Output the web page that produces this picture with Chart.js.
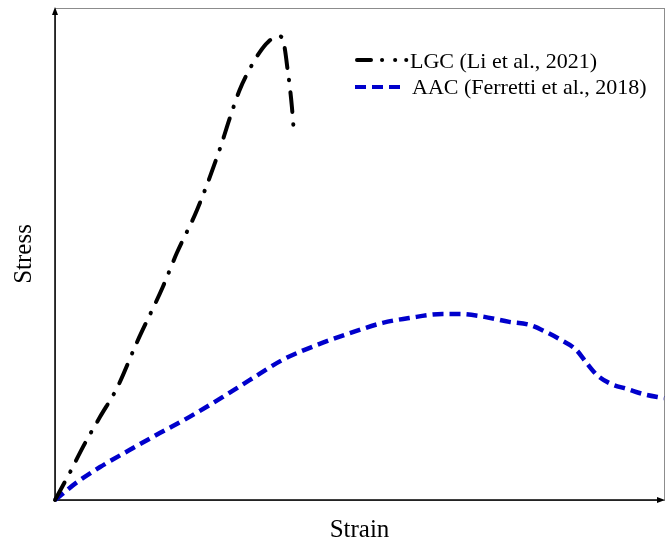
<!DOCTYPE html>
<html>
<head>
<meta charset="utf-8">
<script src="https://cdn.jsdelivr.net/npm/chart.js@4"></script>
<style>
  html, body { margin: 0; padding: 0; background: #fff; }
  #wrap { width: 670px; height: 542px; }
</style>
</head>
<body>
<div id="wrap"><canvas id="stressChart" width="670" height="542"></canvas></div>
<script>
/* =========================
   DATA (axes 0..1, no units)
========================= */
const seriesNames = ["LGC (Li et al., 2021)", "AAC (Ferretti et al., 2018)"];
const axisTitles = { x: "Strain", y: "Stress" };

const lgcStrain = [0, 0.025, 0.046, 0.074, 0.102, 0.134, 0.177, 0.200, 0.233, 0.270, 0.287, 0.303, 0.318, 0.336, 0.350, 0.366, 0.374, 0.378, 0.382, 0.385, 0.389, 0.392];
const lgcStress = [0, 0.057, 0.108, 0.169, 0.228, 0.319, 0.433, 0.502, 0.589, 0.711, 0.776, 0.833, 0.872, 0.910, 0.931, 0.943, 0.938, 0.912, 0.874, 0.846, 0.799, 0.752];

const aacStrain = [0, 0.036, 0.074, 0.123, 0.172, 0.221, 0.275, 0.320, 0.374, 0.430, 0.484, 0.538, 0.582, 0.636, 0.664, 0.697, 0.746, 0.779, 0.807, 0.831, 0.856, 0.872, 0.890, 0.913, 0.939, 0.967, 1.0];
const aacStress = [0, 0.036, 0.067, 0.102, 0.136, 0.169, 0.209, 0.244, 0.285, 0.315, 0.339, 0.360, 0.370, 0.378, 0.378, 0.374, 0.362, 0.356, 0.341, 0.325, 0.305, 0.280, 0.254, 0.236, 0.226, 0.215, 0.207];

const BLUE = "#0000cc";
const SERIF = "'Liberation Serif', 'Times New Roman', serif";

function toPoints(xs, ys) {
  return xs.map((x, i) => ({ x: x, y: ys[i] }));
}

/* =========================
   FRAME + ARROWS
========================= */
const framePlugin = {
  id: "frame",
  beforeDatasetsDraw(chart) {
    const { ctx, chartArea: a } = chart;
    ctx.save();
    // thin grey box
    ctx.strokeStyle = "#8c8c8c";
    ctx.lineWidth = 1;
    ctx.strokeRect(a.left + 0.5, a.top + 0.5, a.right - a.left, a.bottom - a.top);
    // black axes
    ctx.strokeStyle = "#000";
    ctx.fillStyle = "#000";
    ctx.lineWidth = 1.5;
    ctx.beginPath();
    ctx.moveTo(a.left, a.top + 4);
    ctx.lineTo(a.left, a.bottom);
    ctx.lineTo(a.right - 4, a.bottom);
    ctx.stroke();
    // arrow heads
    ctx.beginPath();
    ctx.moveTo(a.left, a.top - 1);
    ctx.lineTo(a.left - 3, a.top + 7);
    ctx.lineTo(a.left + 3, a.top + 7);
    ctx.closePath();
    ctx.fill();
    ctx.beginPath();
    ctx.moveTo(a.right + 1, a.bottom);
    ctx.lineTo(a.right - 7, a.bottom - 3);
    ctx.lineTo(a.right - 7, a.bottom + 3);
    ctx.closePath();
    ctx.fill();
    ctx.restore();
  }
};

/* =========================
   LEGEND (drawn inside the plot)
========================= */
const legendPlugin = {
  id: "innerLegend",
  afterDatasetsDraw(chart) {
    const ctx = chart.ctx;
    ctx.save();
    ctx.lineWidth = 4;

    // dash-dot-dot sample
    ctx.strokeStyle = "#000";
    ctx.lineCap = "round";
    ctx.setLineDash([14, 11, 0.1, 13, 0.1, 11, 0.1, 100]);
    ctx.beginPath();
    ctx.moveTo(357, 60);
    ctx.lineTo(408, 60);
    ctx.stroke();

    // dashed sample
    ctx.strokeStyle = BLUE;
    ctx.lineCap = "butt";
    ctx.setLineDash([11, 6]);
    ctx.beginPath();
    ctx.moveTo(355, 87);
    ctx.lineTo(400, 87);
    ctx.stroke();

    ctx.setLineDash([]);
    ctx.fillStyle = "#000";
    ctx.font = "22px " + SERIF;
    ctx.textBaseline = "alphabetic";
    ctx.fillText(seriesNames[0], 410, 68);
    ctx.fillText(seriesNames[1], 412, 94);
    ctx.restore();
  }
};

/* =========================
   CHART
========================= */
new Chart(document.getElementById("stressChart"), {
  type: "line",
  data: {
    datasets: [
      {
        label: seriesNames[0],
        data: toPoints(lgcStrain, lgcStress),
        borderColor: "#000",
        borderWidth: 4,
        borderDash: [20, 12, 0.5, 12],
        borderCapStyle: "round",
        cubicInterpolationMode: "monotone",
        pointRadius: 0,
        fill: false,
        clip: false
      },
      {
        label: seriesNames[1],
        data: toPoints(aacStrain, aacStress),
        borderColor: BLUE,
        borderWidth: 4.5,
        borderDash: [11, 6],
        cubicInterpolationMode: "monotone",
        pointRadius: 0,
        fill: false,
        clip: false
      }
    ]
  },
  options: {
    responsive: false,
    animation: false,
    layout: { padding: { top: 8, right: 6, bottom: 0, left: 0 } },
    plugins: {
      legend: { display: false },
      tooltip: { enabled: false }
    },
    scales: {
      x: {
        type: "linear",
        min: 0,
        max: 1,
        grid: { display: false, drawTicks: false },
        border: { display: false },
        ticks: { display: false },
        title: {
          display: true,
          text: axisTitles.x,
          color: "#000",
          font: { family: SERIF, size: 25, lineHeight: 0.92 },
          padding: { top: 19, bottom: 0 }
        }
      },
      y: {
        type: "linear",
        min: 0,
        max: 1,
        grid: { display: false, drawTicks: false },
        border: { display: false },
        ticks: { display: false },
        title: {
          display: true,
          text: axisTitles.y,
          color: "#000",
          font: { family: SERIF, size: 25, lineHeight: 1 },
          padding: { top: 12, bottom: 18 }
        }
      }
    }
  },
  plugins: [framePlugin, legendPlugin]
});
</script>
</body>
</html>
